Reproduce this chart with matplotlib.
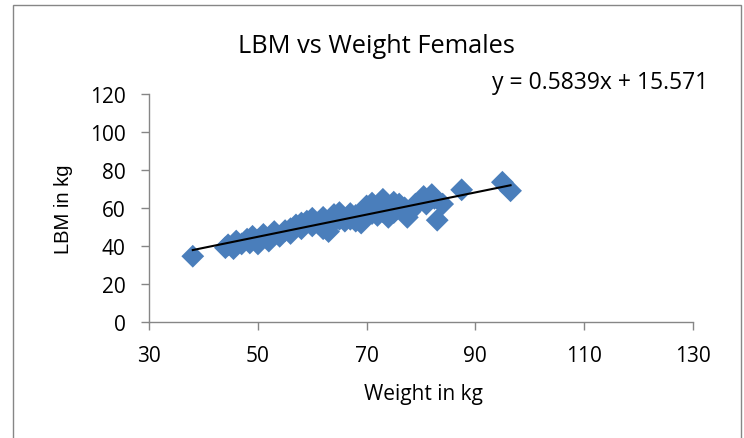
import matplotlib.pyplot as plt
from matplotlib.patches import Rectangle

# Peso y masa magra (LBM) de las mujeres
weight = [38, 44, 44.5, 45.5, 46, 47, 48, 48.5, 49, 50, 50, 51, 52, 52, 53,
          54, 55, 56, 56, 57, 58, 58, 59, 60, 60, 61, 62, 62, 63, 63, 64, 64,
          65, 65, 66, 67, 67, 68, 68, 69, 69, 70, 70, 71, 71, 72, 72, 73, 73,
          74, 74, 75, 75, 76, 77, 77.5, 78, 79, 80, 80.5, 81, 82, 82.5, 83,
          84, 87.5, 95, 96.5]
lbm = [34.5, 39, 40.5, 38.5, 42.5, 41, 43.5, 41.5, 45, 43, 41, 46, 44, 42.5,
       47.5, 45, 48, 46.5, 49, 51, 49, 52, 53, 50.5, 54.5, 52, 55, 49, 47.5,
       51, 56.5, 53, 57.5, 54, 53, 57, 54, 56, 53, 52, 55.5, 58, 61, 62.5, 57,
       60, 56, 64.5, 58, 55, 61, 63, 57.5, 62, 60, 55, 58, 62, 64, 66, 62, 67,
       65, 53.5, 62, 69.5, 73.5, 69]

# Linea de tendencia
slope = 0.5839
intercept = 15.571

xticks = [30, 50, 70, 90, 110, 130]
yticks = [0, 20, 40, 60, 80, 100, 120]

plt.rcParams['font.family'] = ['Open Sans', 'DejaVu Sans']
gray = '#868686'

fig = plt.figure(figsize=(7.44, 4.39), dpi=100)
# Borde del area del grafico
fig.patches.append(Rectangle((13 / 744, -0.05), 728 / 744, 1.05 - 6 / 439,
                             transform=fig.transFigure, fill=False,
                             edgecolor=gray, linewidth=1))

ax = fig.add_axes([0.2007, 0.2649, 0.7301, 0.5187])
ax.scatter(weight, lbm, marker='D', s=135, color='#4a7ebb',
           edgecolors='none', zorder=2)

x0, x1 = min(weight), max(weight)
ax.plot([x0, x1], [slope * x0 + intercept, slope * x1 + intercept],
        color='black', linewidth=1.5, zorder=3)

ax.set_xlim(30, 130)
ax.set_ylim(0, 120)
ax.set_xticks(xticks)
ax.set_yticks(yticks)
ax.tick_params(axis='both', direction='out', length=6, width=1,
               color=gray, labelsize=15, pad=11)
for side in ['top', 'right']:
    ax.spines[side].set_visible(False)
for side in ['left', 'bottom']:
    ax.spines[side].set_color(gray)
    ax.spines[side].set_linewidth(1)

ax.set_xlabel('Weight in kg', fontsize=15)
ax.xaxis.set_label_coords(0.504, -0.27)
ax.set_ylabel('LBM in kg', fontsize=14.5, family='Liberation Sans')
ax.yaxis.set_label_coords(-0.14, 0.5)

fig.text(0.5063, 0.8786, 'LBM vs Weight Females', ha='center',
         va='baseline', fontsize=18.3)
ax.text(0.63, 1.025, 'y = 0.5839x + 15.571', transform=ax.transAxes,
        ha='left', va='baseline', fontsize=16.5)

plt.savefig('out.png', dpi=100)
